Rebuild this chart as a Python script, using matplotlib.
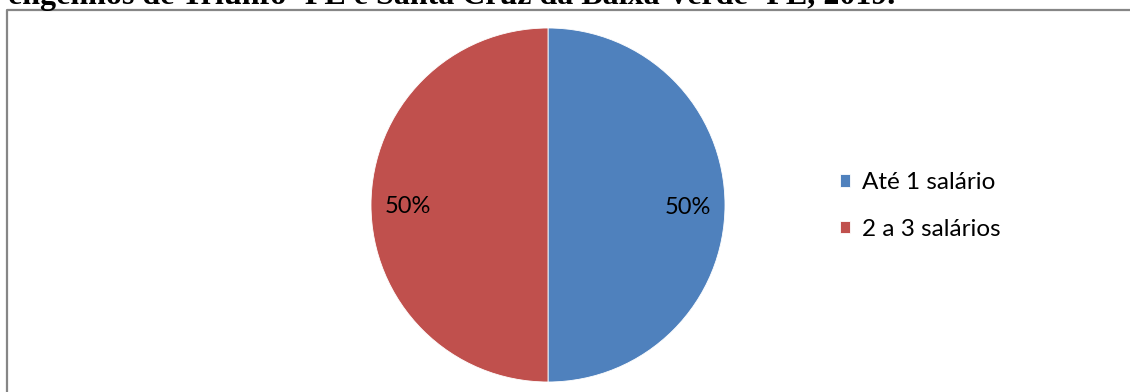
import matplotlib
matplotlib.use("Agg")
from matplotlib import pyplot as plt
from matplotlib.lines import Line2D

categories = ["Até 1 salário", "2 a 3 salários"]
shares = [50, 50]
colors = ["#4F81BD", "#C0504D"]
caption = "engenhos de Triunfo -PE e Santa Cruz da Baixa Verde -PE, 2019."

W, H = 1130, 392
fig = plt.figure(figsize=(W / 100, H / 100), dpi=100)
fig.patch.set_facecolor("white")

# caption line cut off at top of the picture
fig.text(8 / W, 1 - 4 / H, caption, family="Liberation Serif", weight="bold",
         fontsize=23, va="baseline", ha="left", color="black")

# chart frame (only left and top edge visible)
fig.add_artist(Line2D([7 / W, 7 / W, 1.0], [0.0, 1 - 10 / H, 1 - 10 / H],
                      transform=fig.transFigure, color="#868686", lw=1.6))

# pie
cx, cy, r = 548, 205, 177
ax = fig.add_axes([(cx - r) / W, (H - cy - r) / H, 2 * r / W, 2 * r / H])
wedges, texts, autotexts = ax.pie(
    shares, colors=colors, startangle=90, counterclock=False,
    autopct="%d%%", pctdistance=0.79, radius=1,
    wedgeprops=dict(edgecolor="white", linewidth=0.6),
    textprops=dict(family="Lato", fontsize=17, color="black"))
for t in autotexts:
    t.set_va("center_baseline")
ax.set_xlim(-1, 1)
ax.set_ylim(-1, 1)
ax.set_aspect("equal")
ax.axis("off")

fig.legend(wedges, categories, loc="center left",
           bbox_to_anchor=(818 / W, 1 - 206 / H), frameon=False,
           prop=dict(family="Lato", size=17.5),
           handlelength=0.4, handleheight=0.4, handletextpad=0.5,
           labelspacing=1.05)

fig.savefig("out.png", dpi=100)
